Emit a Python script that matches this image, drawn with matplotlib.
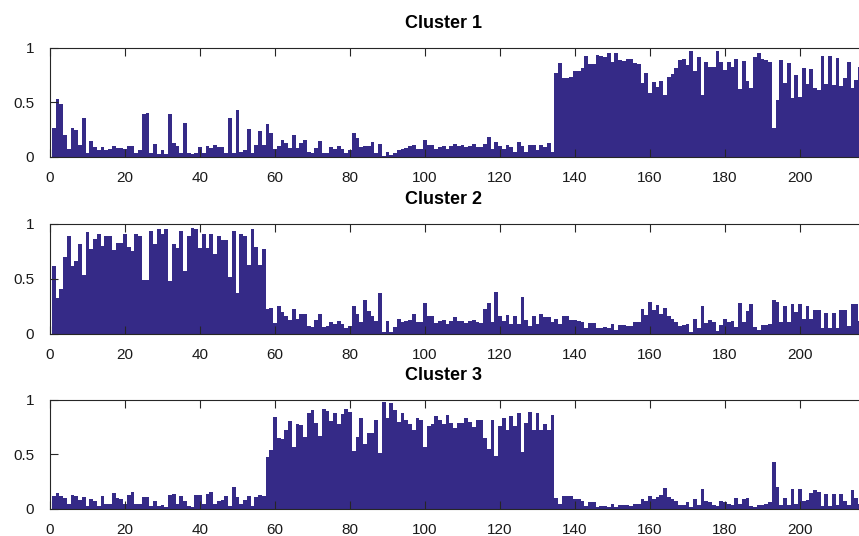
import numpy as np
import matplotlib
matplotlib.use("Agg")
import matplotlib.pyplot as plt

plt.rcParams['font.family'] = ['Liberation Sans', 'DejaVu Sans']

# membership values per sample, one list per cluster
cluster1 = [
    0.27, 0.53, 0.49, 0.20, 0.07, 0.27, 0.25, 0.11, 0.36, 0.04,
    0.15, 0.09, 0.06, 0.09, 0.06, 0.07, 0.10, 0.08, 0.08, 0.07,
    0.10, 0.10, 0.04, 0.06, 0.39, 0.40, 0.04, 0.12, 0.03, 0.06,
    0.03, 0.39, 0.13, 0.10, 0.04, 0.31, 0.04, 0.03, 0.04, 0.09,
    0.04, 0.10, 0.08, 0.11, 0.09, 0.09, 0.04, 0.36, 0.04, 0.43,
    0.05, 0.06, 0.26, 0.04, 0.11, 0.24, 0.11, 0.30, 0.22, 0.07,
    0.10, 0.16, 0.13, 0.08, 0.20, 0.08, 0.13, 0.16, 0.05, 0.04,
    0.08, 0.15, 0.04, 0.04, 0.09, 0.07, 0.10, 0.07, 0.04, 0.06,
    0.22, 0.17, 0.09, 0.10, 0.10, 0.14, 0.04, 0.12, 0.01, 0.05,
    0.02, 0.04, 0.06, 0.07, 0.08, 0.10, 0.11, 0.07, 0.07, 0.16,
    0.11, 0.11, 0.07, 0.09, 0.10, 0.07, 0.10, 0.12, 0.10, 0.11,
    0.09, 0.10, 0.12, 0.09, 0.09, 0.12, 0.18, 0.07, 0.14, 0.10,
    0.07, 0.11, 0.09, 0.05, 0.14, 0.10, 0.05, 0.11, 0.11, 0.06,
    0.11, 0.09, 0.13, 0.05, 0.77, 0.86, 0.72, 0.72, 0.73, 0.79,
    0.79, 0.82, 0.93, 0.85, 0.85, 0.94, 0.93, 0.92, 0.95, 0.87,
    0.95, 0.89, 0.88, 0.90, 0.90, 0.86, 0.85, 0.68, 0.77, 0.59,
    0.69, 0.64, 0.70, 0.57, 0.73, 0.76, 0.82, 0.89, 0.90, 0.84,
    0.97, 0.79, 0.92, 0.57, 0.87, 0.83, 0.83, 0.97, 0.87, 0.80,
    0.87, 0.83, 0.90, 0.62, 0.88, 0.70, 0.63, 0.92, 0.95, 0.90,
    0.89, 0.87, 0.27, 0.52, 0.89, 0.68, 0.86, 0.54, 0.75, 0.55,
    0.82, 0.67, 0.81, 0.63, 0.61, 0.93, 0.67, 0.93, 0.66, 0.91,
    0.65, 0.72, 0.87, 0.63, 0.71, 0.83, 0.62,
]

cluster2 = [
    0.62, 0.33, 0.41, 0.70, 0.89, 0.62, 0.66, 0.82, 0.54, 0.93,
    0.77, 0.86, 0.91, 0.80, 0.89, 0.89, 0.76, 0.83, 0.83, 0.91,
    0.79, 0.75, 0.91, 0.89, 0.49, 0.49, 0.94, 0.82, 0.95, 0.91,
    0.95, 0.48, 0.82, 0.78, 0.94, 0.57, 0.89, 0.96, 0.95, 0.78,
    0.91, 0.78, 0.91, 0.73, 0.89, 0.85, 0.85, 0.52, 0.94, 0.37,
    0.91, 0.89, 0.63, 0.95, 0.79, 0.63, 0.77, 0.23, 0.24, 0.10,
    0.25, 0.20, 0.16, 0.13, 0.23, 0.14, 0.18, 0.18, 0.07, 0.06,
    0.13, 0.18, 0.06, 0.07, 0.11, 0.09, 0.12, 0.09, 0.05, 0.07,
    0.25, 0.18, 0.11, 0.31, 0.21, 0.16, 0.12, 0.37, 0.02, 0.12,
    0.02, 0.06, 0.14, 0.11, 0.12, 0.13, 0.18, 0.11, 0.11, 0.28,
    0.16, 0.16, 0.10, 0.12, 0.13, 0.09, 0.12, 0.15, 0.12, 0.12,
    0.10, 0.12, 0.13, 0.11, 0.10, 0.23, 0.28, 0.11, 0.38, 0.16,
    0.12, 0.17, 0.09, 0.16, 0.09, 0.34, 0.13, 0.07, 0.16, 0.09,
    0.18, 0.15, 0.15, 0.11, 0.14, 0.09, 0.16, 0.16, 0.13, 0.13,
    0.12, 0.11, 0.05, 0.10, 0.10, 0.05, 0.05, 0.06, 0.05, 0.09,
    0.04, 0.08, 0.08, 0.07, 0.07, 0.11, 0.11, 0.23, 0.17, 0.29,
    0.22, 0.26, 0.18, 0.24, 0.16, 0.14, 0.11, 0.07, 0.08, 0.09,
    0.02, 0.14, 0.05, 0.25, 0.10, 0.13, 0.11, 0.03, 0.08, 0.14,
    0.11, 0.12, 0.06, 0.28, 0.11, 0.21, 0.27, 0.06, 0.04, 0.08,
    0.08, 0.09, 0.31, 0.29, 0.11, 0.25, 0.11, 0.27, 0.20, 0.27,
    0.14, 0.25, 0.14, 0.22, 0.22, 0.05, 0.19, 0.05, 0.19, 0.05,
    0.22, 0.22, 0.07, 0.27, 0.27, 0.12, 0.27,
]

cluster3 = [
    0.12, 0.15, 0.12, 0.10, 0.05, 0.13, 0.12, 0.08, 0.11, 0.03,
    0.09, 0.07, 0.03, 0.12, 0.05, 0.05, 0.15, 0.10, 0.09, 0.05,
    0.13, 0.16, 0.05, 0.05, 0.11, 0.11, 0.03, 0.07, 0.03, 0.04,
    0.02, 0.13, 0.14, 0.05, 0.12, 0.07, 0.03, 0.02, 0.13, 0.13,
    0.05, 0.14, 0.16, 0.05, 0.07, 0.08, 0.12, 0.03, 0.20, 0.11,
    0.05, 0.08, 0.12, 0.03, 0.11, 0.13, 0.12, 0.48, 0.54, 0.84,
    0.65, 0.64, 0.72, 0.81, 0.57, 0.78, 0.77, 0.66, 0.88, 0.91,
    0.79, 0.67, 0.92, 0.90, 0.81, 0.88, 0.78, 0.87, 0.92, 0.89,
    0.53, 0.66, 0.83, 0.60, 0.70, 0.70, 0.82, 0.51, 0.98, 0.83,
    0.97, 0.91, 0.80, 0.88, 0.82, 0.78, 0.72, 0.83, 0.82, 0.57,
    0.76, 0.78, 0.85, 0.82, 0.78, 0.86, 0.79, 0.74, 0.79, 0.79,
    0.83, 0.80, 0.75, 0.82, 0.82, 0.65, 0.55, 0.82, 0.49, 0.76,
    0.83, 0.72, 0.85, 0.76, 0.88, 0.52, 0.79, 0.89, 0.72, 0.88,
    0.72, 0.78, 0.72, 0.86, 0.10, 0.05, 0.12, 0.12, 0.12, 0.09,
    0.09, 0.07, 0.03, 0.06, 0.06, 0.02, 0.03, 0.03, 0.02, 0.05,
    0.02, 0.04, 0.04, 0.04, 0.03, 0.05, 0.05, 0.09, 0.07, 0.12,
    0.09, 0.11, 0.13, 0.19, 0.11, 0.09, 0.07, 0.04, 0.04, 0.06,
    0.02, 0.09, 0.04, 0.18, 0.07, 0.06, 0.04, 0.03, 0.07, 0.06,
    0.05, 0.04, 0.10, 0.05, 0.09, 0.10, 0.03, 0.02, 0.04, 0.04,
    0.05, 0.06, 0.43, 0.20, 0.04, 0.10, 0.04, 0.18, 0.05, 0.18,
    0.07, 0.08, 0.15, 0.17, 0.16, 0.03, 0.14, 0.03, 0.14, 0.04,
    0.14, 0.07, 0.04, 0.17, 0.10, 0.05, 0.11,
]

titles = ["Cluster 1", "Cluster 2", "Cluster 3"]
xticks = list(range(0, 201, 20))
yticks = [0, 0.5, 1]
ytick_labels = ["0", "0.5", "1"]

bar_color = "#352a87"
axis_color = "#262626"

fig = plt.figure(figsize=(8.59, 5.36), dpi=100)

# axes boxes (left, bottom, width, height); the right edge runs past the figure like the original
boxes = [
    [0.0582, 0.7071, 0.9517, 0.2034],
    [0.0582, 0.3769, 0.9517, 0.2052],
    [0.0582, 0.0504, 0.9517, 0.2034],
]

for vals, title, box in zip([cluster1, cluster2, cluster3], titles, boxes):
    ax = fig.add_axes(box)
    x = np.arange(1, len(vals) + 1)
    ax.bar(x, vals, width=1.0, color=bar_color, edgecolor="none", linewidth=0)
    ax.set_xlim(0, 218)
    ax.set_ylim(0, 1)
    ax.set_xticks(xticks)
    ax.set_xticklabels([str(t) for t in xticks])
    ax.set_yticks(yticks)
    ax.set_yticklabels(ytick_labels)
    ax.tick_params(axis="both", direction="in", length=5.8, width=0.8,
                   top=True, right=True, colors=axis_color, labelsize=11,
                   labelcolor="#1a1a1a")
    ax.tick_params(axis="x", pad=10)
    ax.tick_params(axis="y", pad=11.5)
    for sp in ax.spines.values():
        sp.set_color(axis_color)
        sp.set_linewidth(0.8)
    ax.set_title(title, fontsize=13, fontweight="bold", x=0.481, pad=14.5)

fig.savefig("out.png", dpi=100)
